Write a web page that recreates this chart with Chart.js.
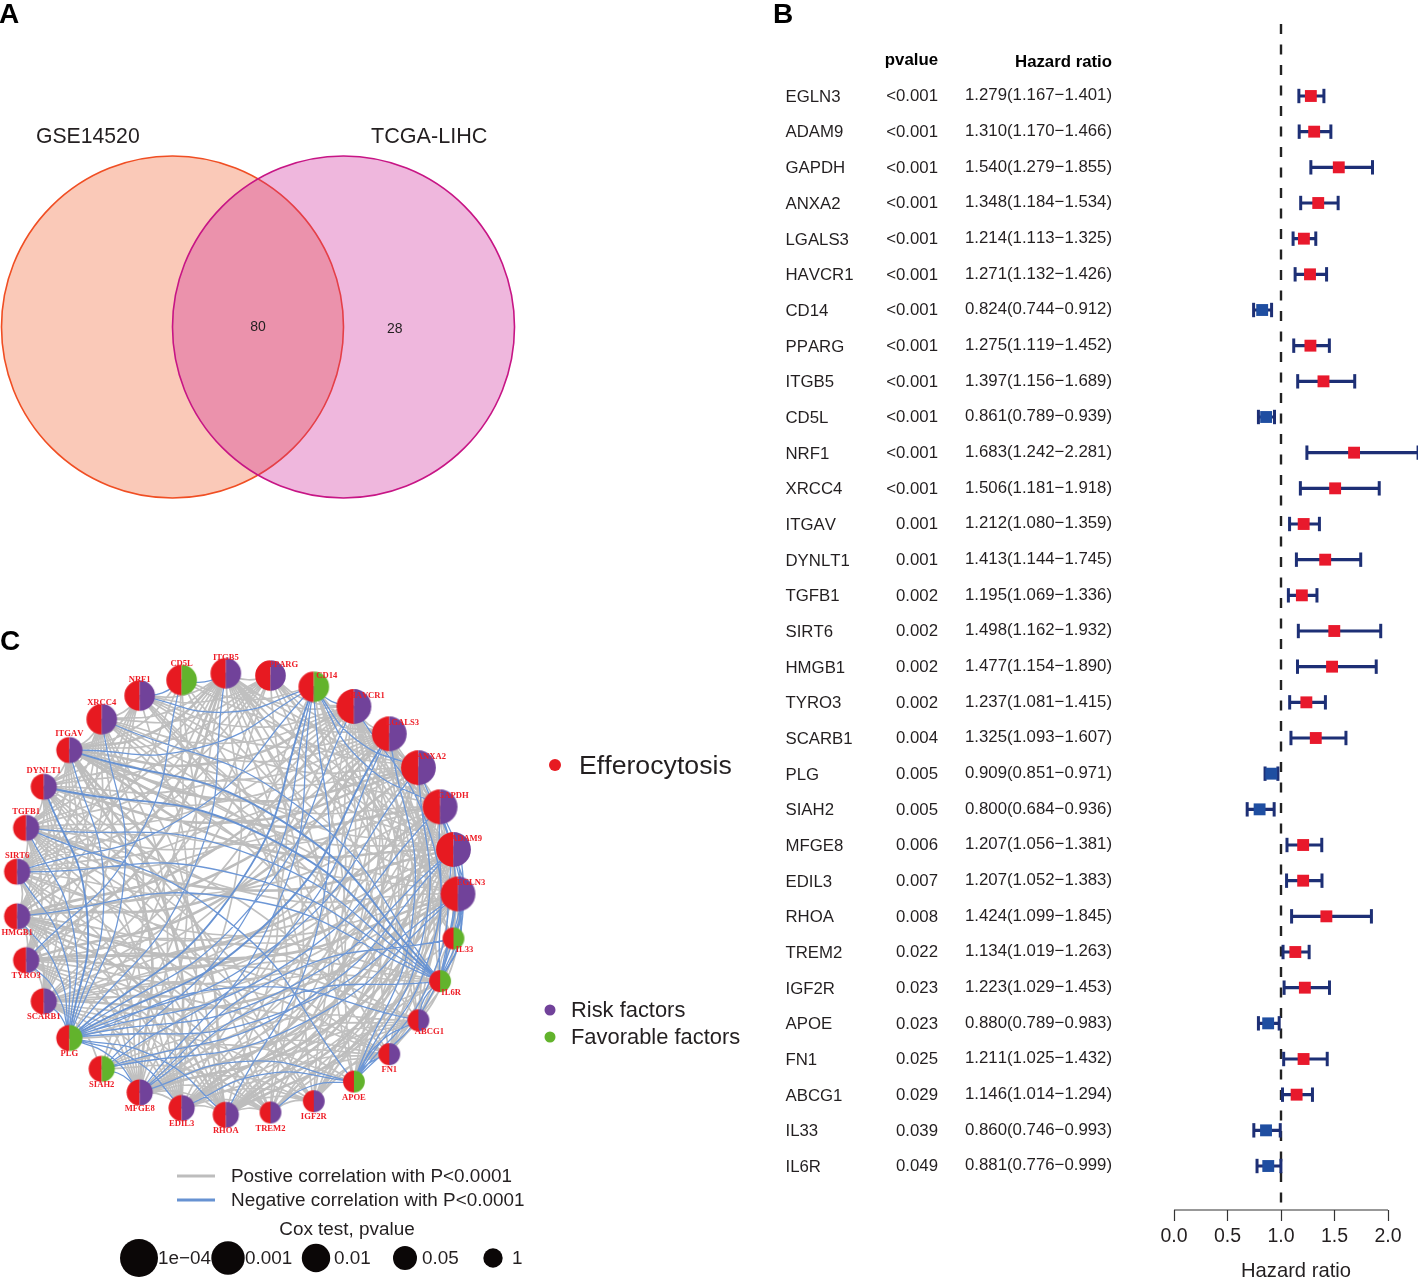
<!DOCTYPE html>
<html>
<head>
<meta charset="utf-8">
<title>Efferocytosis genes</title>
<script src="https://cdn.jsdelivr.net/npm/chart.js@4"></script>
<style>
    html, body { margin: 0; padding: 0; background: #fff; }
    body { position: relative; width: 1418px; height: 1278px; overflow: hidden; }
    canvas { position: absolute; }
</style>
</head>
<body>
<canvas id="venn-chart" style="left:0;top:0"></canvas>
<canvas id="forest-chart" style="left:770px;top:0"></canvas>
<canvas id="network-chart" style="left:0;top:620px"></canvas>
<script>
// Panel A: set names and counts
const vennSets = ['GSE14520', 'TCGA-LIHC'];
const vennCounts = ['80', '28'];

// Panel B: univariate cox results
const genes = ['EGLN3', 'ADAM9', 'GAPDH', 'ANXA2', 'LGALS3', 'HAVCR1', 'CD14', 'PPARG', 'ITGB5', 'CD5L', 'NRF1',
    'XRCC4', 'ITGAV', 'DYNLT1', 'TGFB1', 'SIRT6', 'HMGB1', 'TYRO3', 'SCARB1', 'PLG', 'SIAH2', 'MFGE8', 'EDIL3',
    'RHOA', 'TREM2', 'IGF2R', 'APOE', 'FN1', 'ABCG1', 'IL6R', 'IL33'];
const forestOrder = ['EGLN3', 'ADAM9', 'GAPDH', 'ANXA2', 'LGALS3', 'HAVCR1', 'CD14', 'PPARG', 'ITGB5', 'CD5L', 'NRF1',
    'XRCC4', 'ITGAV', 'DYNLT1', 'TGFB1', 'SIRT6', 'HMGB1', 'TYRO3', 'SCARB1', 'PLG', 'SIAH2', 'MFGE8', 'EDIL3',
    'RHOA', 'TREM2', 'IGF2R', 'APOE', 'FN1', 'ABCG1', 'IL33', 'IL6R'];
const pValues = [0.00005, 0.00005, 0.00005, 0.00005, 0.00005, 0.00005, 0.0005, 0.0005, 0.0005, 0.0005, 0.0005, 0.0005,
    0.001, 0.001, 0.002, 0.002, 0.002, 0.002, 0.004, 0.005, 0.005, 0.006, 0.007, 0.008, 0.022, 0.023, 0.023, 0.025,
    0.029, 0.039, 0.049];
const hazardRatios = [1.279, 1.310, 1.540, 1.348, 1.214, 1.271, 0.824, 1.275, 1.397, 0.861, 1.683, 1.506, 1.212, 1.413,
    1.195, 1.498, 1.477, 1.237, 1.325, 0.909, 0.800, 1.207, 1.207, 1.424, 1.134, 1.223, 0.880, 1.211, 1.146, 0.860, 0.881];
const ciLower = [1.167, 1.170, 1.279, 1.184, 1.113, 1.132, 0.744, 1.119, 1.156, 0.789, 1.242, 1.181, 1.080, 1.144,
    1.069, 1.162, 1.154, 1.081, 1.093, 0.851, 0.684, 1.056, 1.052, 1.099, 1.019, 1.029, 0.789, 1.025, 1.014, 0.746, 0.776];
const ciUpper = [1.401, 1.466, 1.855, 1.534, 1.325, 1.426, 0.912, 1.452, 1.689, 0.939, 2.281, 1.918, 1.359, 1.745,
    1.336, 1.932, 1.890, 1.415, 1.607, 0.971, 0.936, 1.381, 1.383, 1.845, 1.263, 1.453, 0.983, 1.432, 1.294, 0.993, 0.999];
const hrTicks = [0, 0.5, 1, 1.5, 2];

// Panel C: correlation links ("gene:partner,partner")
const negativeLinks = [
    'PLG:EGLN3,ADAM9,GAPDH,ANXA2,LGALS3,HAVCR1,ITGB5,XRCC4,ITGAV,DYNLT1,TGFB1,SIRT6,HMGB1,TYRO3,SCARB1,MFGE8,EDIL3,RHOA,ABCG1',
    'IL6R:EGLN3,ADAM9,GAPDH,ANXA2,HAVCR1,ITGAV,DYNLT1,TGFB1,SIRT6,HMGB1,XRCC4,MFGE8,ABCG1',
    'APOE:EGLN3,ADAM9,GAPDH,ANXA2,LGALS3,MFGE8,EDIL3,TREM2,FN1,ABCG1,TGFB1',
    'CD14:NRF1,ITGAV,SIRT6,HAVCR1,GAPDH,ANXA2,SIAH2,MFGE8,RHOA',
    'SIAH2:EGLN3,ADAM9,LGALS3,MFGE8',
    'CD5L:NRF1,ITGB5,TYRO3',
    'IL33:EGLN3,ADAM9,GAPDH,MFGE8'
];
const strongNegativeLinks = [
    'IL6R:DYNLT1,ITGAV,EGLN3',
    'PLG:LGALS3,DYNLT1',
    'CD14:PLG'
];
const unlinkedPairs = [
    'CD14:PPARG,ITGB5,XRCC4,ITGAV,DYNLT1,TGFB1,HMGB1,TYRO3,EDIL3,IGF2R,FN1,ABCG1,IL33',
    'CD5L:EGLN3,ADAM9,GAPDH,ANXA2,LGALS3,HAVCR1,PPARG,XRCC4,DYNLT1,TGFB1,HMGB1,SCARB1,MFGE8,EDIL3,RHOA,IGF2R,FN1,ABCG1,IL6R',
    'PLG:PPARG,NRF1,IL33,SIAH2,TREM2,APOE',
    'SIAH2:ANXA2,HAVCR1,ITGB5,PPARG,NRF1,ITGAV,DYNLT1,TGFB1,SIRT6,HMGB1,TYRO3,EDIL3,RHOA,IGF2R,FN1,ABCG1,IL33',
    'IL33:ANXA2,HAVCR1,PPARG,NRF1,XRCC4,ITGAV,DYNLT1,TGFB1,SIRT6,HMGB1,TYRO3,EDIL3,RHOA,TREM2,IGF2R,FN1,ABCG1,SCARB1',
    'APOE:PPARG,XRCC4,ITGAV,DYNLT1,SIRT6,HMGB1,TYRO3,RHOA,IGF2R,ITGB5',
    'IL6R:PPARG,ITGB5,LGALS3,NRF1,RHOA,EDIL3,FN1,TREM2,TYRO3',
    'TREM2:EGLN3,ANXA2,LGALS3,PPARG,NRF1,SIRT6,XRCC4,ITGAV',
    'IGF2R:EGLN3,GAPDH,XRCC4,ITGAV,TYRO3,SCARB1,DYNLT1',
    'FN1:PPARG,NRF1,SIRT6,HMGB1,XRCC4,DYNLT1',
    'ABCG1:ANXA2,NRF1,SIRT6,XRCC4,DYNLT1,TGFB1,HMGB1',
    'PPARG:EGLN3,GAPDH,HMGB1,RHOA,MFGE8',
    'NRF1:GAPDH,SCARB1,TYRO3,RHOA,EDIL3',
    // pairs that would otherwise cross the open ring around the middle
    'EGLN3:TGFB1,ITGAV',
    'ADAM9:SIRT6,DYNLT1',
    'GAPDH:HMGB1,TGFB1',
    'ANXA2:TYRO3,SIRT6',
    'LGALS3:SCARB1,HMGB1',
    'HAVCR1:TYRO3',
    'ITGB5:EDIL3',
    'XRCC4:RHOA'
];
const strongPositiveLinks = [
    'GAPDH:ANXA2,LGALS3,ITGAV,TYRO3,EDIL3,RHOA',
    'ANXA2:LGALS3,ITGAV,DYNLT1,HMGB1,EDIL3',
    'ADAM9:ITGAV,TGFB1,TYRO3,MFGE8,RHOA',
    'EGLN3:HMGB1,SCARB1,MFGE8,RHOA',
    'ITGAV:RHOA,EDIL3,MFGE8,HAVCR1,ITGB5',
    'HMGB1:RHOA,SCARB1,HAVCR1,LGALS3,ITGB5',
    'TYRO3:ITGB5,LGALS3'
];
const coxLegendLabels = ['1e\u221204', '0.001', '0.01', '0.05', '1'];

const FONT = '"Liberation Sans", Arial, sans-serif';
const RED = '#e71a21', PURPLE = '#71429a', GREEN = '#62b32c', TEXT = '#231f20';

// "a:b,c" -> [[a,b],[a,c]] as index pairs, lower index first so the bend keeps its side
function parseLinks(list) {
    const pairs = [];
    list.forEach(line => {
        const [from, partners] = line.split(':');
        partners.split(',').forEach(to => {
            const a = genes.indexOf(from), b = genes.indexOf(to);
            pairs.push([Math.min(a, b), Math.max(a, b)]);
        });
    });
    return pairs;
}
const pairKey = p => p[0] + '-' + p[1];

function panelLetter(ctx, letter, x, y) {
    ctx.font = `bold 28px ${FONT}`;
    ctx.fillStyle = '#000';
    ctx.textAlign = 'left';
    ctx.textBaseline = 'middle';
    ctx.fillText(letter, x, y);
}

function drawText(ctx, text, x, y, font, color, align) {
    ctx.font = font;
    ctx.fontKerning = 'none';
    ctx.fillStyle = color || TEXT;
    ctx.textAlign = align || 'left';
    ctx.textBaseline = 'middle';
    ctx.fillText(text, x, y);
}

// ---------- Panel A ----------
function initVenn() {
    const canvas = document.getElementById('venn-chart');
    const unit = 171;
    const labels = {
        id: 'vennLabels',
        afterDraw(chart) {
            const ctx = chart.ctx, sx = chart.scales.x, sy = chart.scales.y;
            panelLetter(ctx, 'A', -1, 15);
            drawText(ctx, vennSets[0], 36, 137, `21.2px ${FONT}`);
            drawText(ctx, vennSets[1], 371, 137, `21.6px ${FONT}`);
            drawText(ctx, vennCounts[0], sx.getPixelForValue(0), sy.getPixelForValue(0), `14px ${FONT}`, TEXT, 'center');
            drawText(ctx, vennCounts[1], sx.getPixelForValue(0.8), sy.getPixelForValue(-0.012), `14px ${FONT}`, TEXT, 'center');
        }
    };
    const radius = ctx => ctx.chart.scales.x.getPixelForValue(1) - ctx.chart.scales.x.getPixelForValue(0);
    canvas.width = 770;
    canvas.height = 620;
    new Chart(canvas, {
        type: 'scatter',
        data: {
            datasets: [
                { data: [{ x: 0.5, y: 0 }], order: 1, pointRadius: radius, pointBackgroundColor: 'rgba(205,30,150,0.32)',
                  pointBorderColor: '#c71585', pointBorderWidth: 1.6, clip: false },
                { data: [{ x: -0.5, y: 0 }], order: 2, pointRadius: radius, pointBackgroundColor: 'rgba(240,90,40,0.33)',
                  pointBorderColor: '#f04e23', pointBorderWidth: 1.6, clip: false }
            ]
        },
        plugins: [labels],
        options: {
            responsive: false,
            animation: false,
            devicePixelRatio: 1,
            layout: { padding: 0, autoPadding: false },
            plugins: { legend: { display: false }, tooltip: { enabled: false } },
            scales: {
                x: { display: false, min: -258 / unit, max: (770 - 258) / unit },
                y: { display: false, min: -(620 - 327) / unit, max: 327 / unit }
            }
        }
    });
}

// ---------- Panel B ----------
function initForest() {
    const canvas = document.getElementById('forest-chart');
    const rowTop = 96, rowStep = 35.667, axisTop = 24, axisBottom = 1210, pxPerUnit = 107;
    canvas.width = 648;
    canvas.height = 1278;

    const whiskers = [];
    const markers = [];
    forestOrder.forEach((gene, i) => {
        whiskers.push({ x: ciLower[i], y: i }, { x: ciUpper[i], y: i }, { x: null, y: null });
        markers.push({ x: hazardRatios[i], y: i });
    });
    const yMin = (axisTop - rowTop) / rowStep, yMax = (axisBottom - rowTop) / rowStep;

    const columns = {
        id: 'forestColumns',
        afterDraw(chart) {
            const ctx = chart.ctx, sy = chart.scales.y;
            panelLetter(ctx, 'B', 3, 15);
            drawText(ctx, 'pvalue', 168, 60, `bold 16.8px ${FONT}`, '#000', 'right');
            drawText(ctx, 'Hazard ratio', 342, 62, `bold 16.8px ${FONT}`, '#000', 'right');
            forestOrder.forEach((gene, i) => {
                const y = sy.getPixelForValue(i);
                const p = pValues[i] < 0.001 ? '<0.001' : pValues[i].toFixed(3);
                const hr = `${hazardRatios[i].toFixed(3)}(${ciLower[i].toFixed(3)}\u2212${ciUpper[i].toFixed(3)})`;
                drawText(ctx, gene, 15.5, y + 1.2, `16.8px ${FONT}`);
                drawText(ctx, p, 168, y + 0.8, `16.8px ${FONT}`, TEXT, 'right');
                drawText(ctx, hr, 342, y - 0.2, `16.8px ${FONT}`, TEXT, 'right');
            });
        }
    };

    new Chart(canvas, {
        type: 'scatter',
        data: {
            datasets: [
                { // squares
                    data: markers, order: 1, clip: false, pointStyle: 'rect', pointRadius: 8.4, pointBorderWidth: 0,
                    pointBackgroundColor: ctx => hazardRatios[ctx.dataIndex] < 1 ? '#1f4ea1' : '#e8192c'
                },
                { // confidence intervals
                    data: whiskers, order: 2, clip: false, showLine: true, spanGaps: false, borderColor: '#1d2f75', borderWidth: 3.2,
                    pointStyle: 'line', rotation: 90, pointRotation: 90, pointRadius: 7.2, pointBorderWidth: 3, pointBorderColor: '#1d2f75'
                },
                { // reference line at HR = 1
                    data: [{ x: 1, y: yMin }, { x: 1, y: yMax }], order: 3, clip: false, showLine: true, pointRadius: 0,
                    borderColor: '#222', borderWidth: 2.4, borderDash: [10, 10.5]
                },
                { // axis line stops at the last tick
                    data: [{ x: hrTicks[0], y: yMax }, { x: hrTicks[hrTicks.length - 1], y: yMax }], order: 4, clip: false,
                    showLine: true, pointRadius: 0, borderColor: '#333', borderWidth: 1.2
                }
            ]
        },
        plugins: [columns],
        options: {
            responsive: false,
            animation: false,
            devicePixelRatio: 1,
            layout: { padding: { left: 404, top: axisTop, right: 0, bottom: 0 }, autoPadding: false },
            plugins: { legend: { display: false }, tooltip: { enabled: false } },
            scales: {
                x: {
                    type: 'linear',
                    min: 0,
                    max: 244 / pxPerUnit,
                    afterFit(scale) { scale.height = 1278 - axisBottom; scale.paddingRight = 0; },
                    afterBuildTicks(scale) { scale.ticks = hrTicks.map(v => ({ value: v })); },
                    border: { display: false },
                    grid: { drawOnChartArea: false, tickLength: 11, tickWidth: 1.2, tickColor: '#333' },
                    ticks: {
                        color: TEXT, font: { family: FONT, size: 19.5 }, padding: 4, maxRotation: 0, autoSkip: false,
                        callback: v => v.toFixed(1)
                    },
                    title: {
                        display: true, text: 'Hazard ratio', color: TEXT,
                        font: { family: FONT, size: 20.2, lineHeight: 0.7 }, padding: 0
                    }
                },
                y: { display: false, reverse: true, min: yMin, max: yMax }
            }
        }
    });
}

// ---------- Panel C ----------
function nodeRadius(p) {
    if (p < 0.0001) return 17.4;
    if (p < 0.001) return 15.3;
    if (p <= 0.01) return 13.1;
    return 10.9;
}

// half red, half purple or green disc used as point style
function halfDisc(r, color) {
    const c = document.createElement('canvas');
    c.width = c.height = Math.ceil(r * 2) + 2;
    const g = c.getContext('2d'), m = c.width / 2;
    g.fillStyle = RED;
    g.beginPath(); g.arc(m, m, r, Math.PI / 2, Math.PI * 1.5); g.fill();
    g.fillStyle = color;
    g.beginPath(); g.arc(m, m, r, -Math.PI / 2, Math.PI / 2); g.fill();
    return c;
}

function initNetwork() {
    const canvas = document.getElementById('network-chart');
    const unit = 221, hubX = 237, hubY = 894 - 620, width = 770, height = 658;
    canvas.width = width;
    canvas.height = height;

    const node = i => {
        const a = i * 2 * Math.PI / genes.length;
        return { x: Math.cos(a), y: Math.sin(a) };
    };
    // bend each link to the left of its direction with a mid point off the chord
    const linkPoints = pairs => {
        const pts = [];
        pairs.forEach(([a, b]) => {
            const p = node(a), q = node(b);
            const bend = 0.12;
            pts.push(p, { x: (p.x + q.x) / 2 - (q.y - p.y) * bend, y: (p.y + q.y) / 2 + (q.x - p.x) * bend }, q, { x: null, y: null });
        });
        return pts;
    };
    const linkSet = (pairs, color, width, order) => ({
        data: linkPoints(pairs), order, showLine: true, spanGaps: false, tension: 0.5, pointRadius: 0,
        borderColor: color, borderWidth: width, clip: false
    });

    const negative = parseLinks(negativeLinks), strongNeg = parseLinks(strongNegativeLinks);
    const strongPos = parseLinks(strongPositiveLinks);
    const taken = new Set(negative.concat(strongNeg, strongPos, parseLinks(unlinkedPairs)).map(pairKey));
    const positive = [];
    genes.forEach((g, a) => {
        for (let b = a + 1; b < genes.length; b++) {
            if (!taken.has(a + '-' + b)) positive.push([a, b]);
        }
    });
    const strongKeys = new Set(strongNeg.map(pairKey));

    const coxOf = gene => pValues[forestOrder.indexOf(gene)];
    const hrOf = gene => hazardRatios[forestOrder.indexOf(gene)];
    const styles = genes.map(g => halfDisc(nodeRadius(coxOf(g)), hrOf(g) < 1 ? GREEN : PURPLE));

    const annotate = {
        id: 'networkText',
        afterDraw(chart) {
            const ctx = chart.ctx, sx = chart.scales.x, sy = chart.scales.y;
            panelLetter(ctx, 'C', 0, 22);
            // node names
            genes.forEach((g, i) => {
                const n = node(i);
                let dx = 0, dy = i <= 15 ? -16 : 16;
                if (i <= 7) { dx = 13; dy = -11; }
                if (i >= 28) { dx = 11; dy = 11.5; }
                drawText(ctx, g, sx.getPixelForValue(n.x) + dx, sy.getPixelForValue(n.y) + dy,
                    `bold 8.6px "Liberation Serif", serif`, '#ee1c25', 'center');
            });
            const dot = (x, y, r, color) => {
                ctx.fillStyle = color;
                ctx.beginPath(); ctx.arc(x, y, r, 0, Math.PI * 2); ctx.fill();
            };
            // side legends
            dot(555, 145, 6, RED);
            drawText(ctx, 'Efferocytosis', 579, 146.5, `26.7px ${FONT}`);
            dot(550, 390, 5.5, PURPLE);
            drawText(ctx, 'Risk factors', 571, 391, `21.9px ${FONT}`);
            dot(550, 417, 5.5, GREEN);
            drawText(ctx, 'Favorable factors', 571, 418, `21.9px ${FONT}`);
            // link legend
            ctx.lineWidth = 3;
            ctx.strokeStyle = '#bdbdbd';
            ctx.beginPath(); ctx.moveTo(177, 556); ctx.lineTo(215, 556); ctx.stroke();
            ctx.strokeStyle = '#6792d2';
            ctx.beginPath(); ctx.moveTo(177, 580); ctx.lineTo(215, 580); ctx.stroke();
            drawText(ctx, 'Postive correlation with P<0.0001', 231, 557, `18.9px ${FONT}`);
            drawText(ctx, 'Negative correlation with P<0.0001', 231, 581, `18.9px ${FONT}`);
            drawText(ctx, 'Cox test, pvalue', 347, 609.5, `18.9px ${FONT}`, TEXT, 'center');
            // size legend
            const bubbleX = [139, 228, 316, 405, 493], bubbleR = [19, 16.7, 14.2, 12, 9.7], labelX = [158, 245, 334, 422, 512];
            coxLegendLabels.forEach((label, i) => dot(bubbleX[i], 638, bubbleR[i], '#0b0707'));
            coxLegendLabels.forEach((label, i) => drawText(ctx, label, labelX[i], 639, `18.9px ${FONT}`));
        }
    };

    new Chart(canvas, {
        type: 'scatter',
        data: {
            labels: genes,
            datasets: [
                {
                    data: genes.map((g, i) => node(i)), order: 1, clip: false, pointStyle: styles, pointRadius: 10
                },
                linkSet(strongNeg, '#6792d2', 1.9, 2),
                linkSet(negative.filter(p => !strongKeys.has(pairKey(p))), '#6d97d6', 1.3, 3),
                linkSet(strongPos, '#bdbdbd', 2.6, 4),
                linkSet(positive, '#c0c0c0', 1.7, 5)
            ]
        },
        plugins: [annotate],
        options: {
            responsive: false,
            animation: false,
            devicePixelRatio: 1,
            layout: { padding: 0, autoPadding: false },
            plugins: { legend: { display: false }, tooltip: { enabled: false } },
            scales: {
                x: { display: false, min: -hubX / unit, max: (width - hubX) / unit },
                y: { display: false, min: -(height - hubY) / unit, max: hubY / unit }
            }
        }
    });
}

window.addEventListener('load', () => {
    initVenn();
    initForest();
    initNetwork();
});
</script>
</body>
</html>
